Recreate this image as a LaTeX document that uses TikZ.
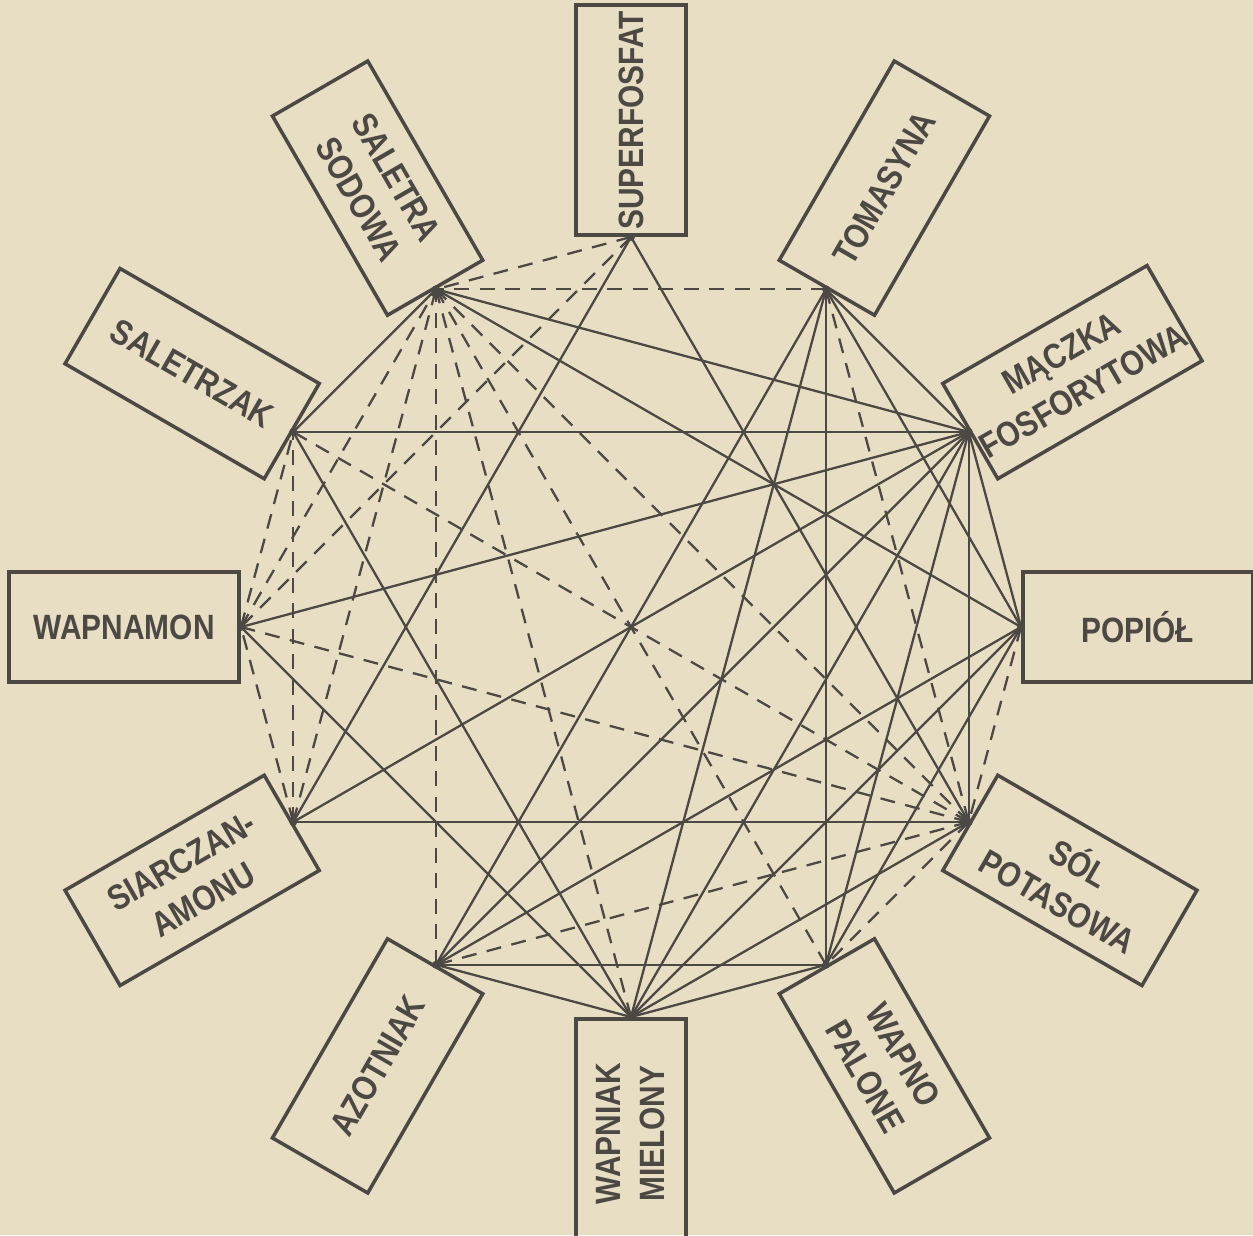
\documentclass[tikz,border=0pt]{standalone}
\usepackage{fontspec}
\setmainfont{Liberation Sans}
\newfontfamily\hand[FakeStretch=0.85]{Liberation Sans}
\usetikzlibrary{calc}
\definecolor{Paper}{HTML}{E8DEC3}
\definecolor{Ink}{HTML}{4C4844}

\begin{document}
\begin{tikzpicture}[
    box/.style={draw=Ink,line width=2pt,minimum width=4.6cm,minimum height=2.2cm,
      inner sep=1pt,align=center,font=\hand\fontsize{20}{25}\selectfont\bfseries,text=Ink},
    bad/.style={Ink,line width=1.3pt},
    risky/.style={Ink,line width=1.3pt,dash pattern=on 8.5pt off 6pt}
  ]
  \fill[Paper] (-12.62,-12.16) rectangle (12.44,12.54);
  \useasboundingbox (-12.62,-12.16) rectangle (12.44,12.54);
  \foreach \n/\a in {sup/90,tom/60,mac/30,pop/0,sol/-30,wpal/-60,wmiel/-90,azot/-120,siarc/-150,wamon/180,saltrz/150,salsod/120}
    \coordinate (\n) at (\a:7.8);
  % right half reads outwards, left half reads inwards
  \node[box,rotate=90,anchor=west] (supbox) at (sup) {SUPERFOSFAT};
  \node[box,rotate=60,anchor=west] (tombox) at (tom) {TOMASYNA};
  \node[box,rotate=30,anchor=west] (macbox) at (mac) {MĄCZKA\\FOSFORYTOWA};
  \node[box,anchor=west] (popbox) at (pop) {POPIÓŁ};
  \node[box,rotate=-30,anchor=west] (solbox) at (sol) {SÓL\\POTASOWA};
  \node[box,rotate=-60,anchor=west] (wpalbox) at (wpal) {WAPNO\\PALONE};
  \node[box,rotate=90,anchor=east] (wmielbox) at (wmiel) {WAPNIAK\\MIELONY};
  \node[box,rotate=60,anchor=east] (azotbox) at (azot) {AZOTNIAK};
  \node[box,rotate=30,anchor=east] (siarcbox) at (siarc) {SIARCZAN-\\AMONU};
  \node[box,anchor=east] (wamonbox) at (wamon) {WAPNAMON};
  \node[box,rotate=-30,anchor=east] (saltrzbox) at (saltrz) {SALETRZAK};
  \node[box,rotate=-60,anchor=east] (salsodbox) at (salsod) {SALETRA\\SODOWA};
  % solid: not to be mixed
  \foreach \a/\b in {sup/siarc,sup/sol,tom/azot,tom/wmiel,tom/wpal,tom/pop,tom/mac,
      mac/salsod,mac/saltrz,mac/wamon,mac/siarc,mac/azot,mac/wmiel,mac/wpal,mac/sol,mac/pop,
      pop/salsod,pop/azot,pop/wmiel,pop/wpal,sol/siarc,sol/wmiel,wpal/azot,wpal/wmiel,
      wmiel/azot,wmiel/wamon,wmiel/saltrz,saltrz/salsod}
    \draw[bad] (\a) -- (\b);
  % dashed: only just before sowing
  \foreach \a/\b in {sup/salsod,sup/wamon,tom/salsod,tom/sol,pop/sol,sol/wamon,sol/saltrz,
      sol/salsod,sol/azot,sol/wpal,wpal/salsod,wmiel/salsod,azot/salsod,siarc/salsod,
      siarc/saltrz,siarc/wamon,wamon/saltrz,wamon/salsod}
    \draw[risky] (\a) -- (\b);
  \foreach \n in {sup,tom,mac,pop,sol,wpal,wmiel,azot,siarc,wamon,saltrz,salsod}
    \fill[Ink] (\n) circle (0.08);
\end{tikzpicture}
\end{document}
